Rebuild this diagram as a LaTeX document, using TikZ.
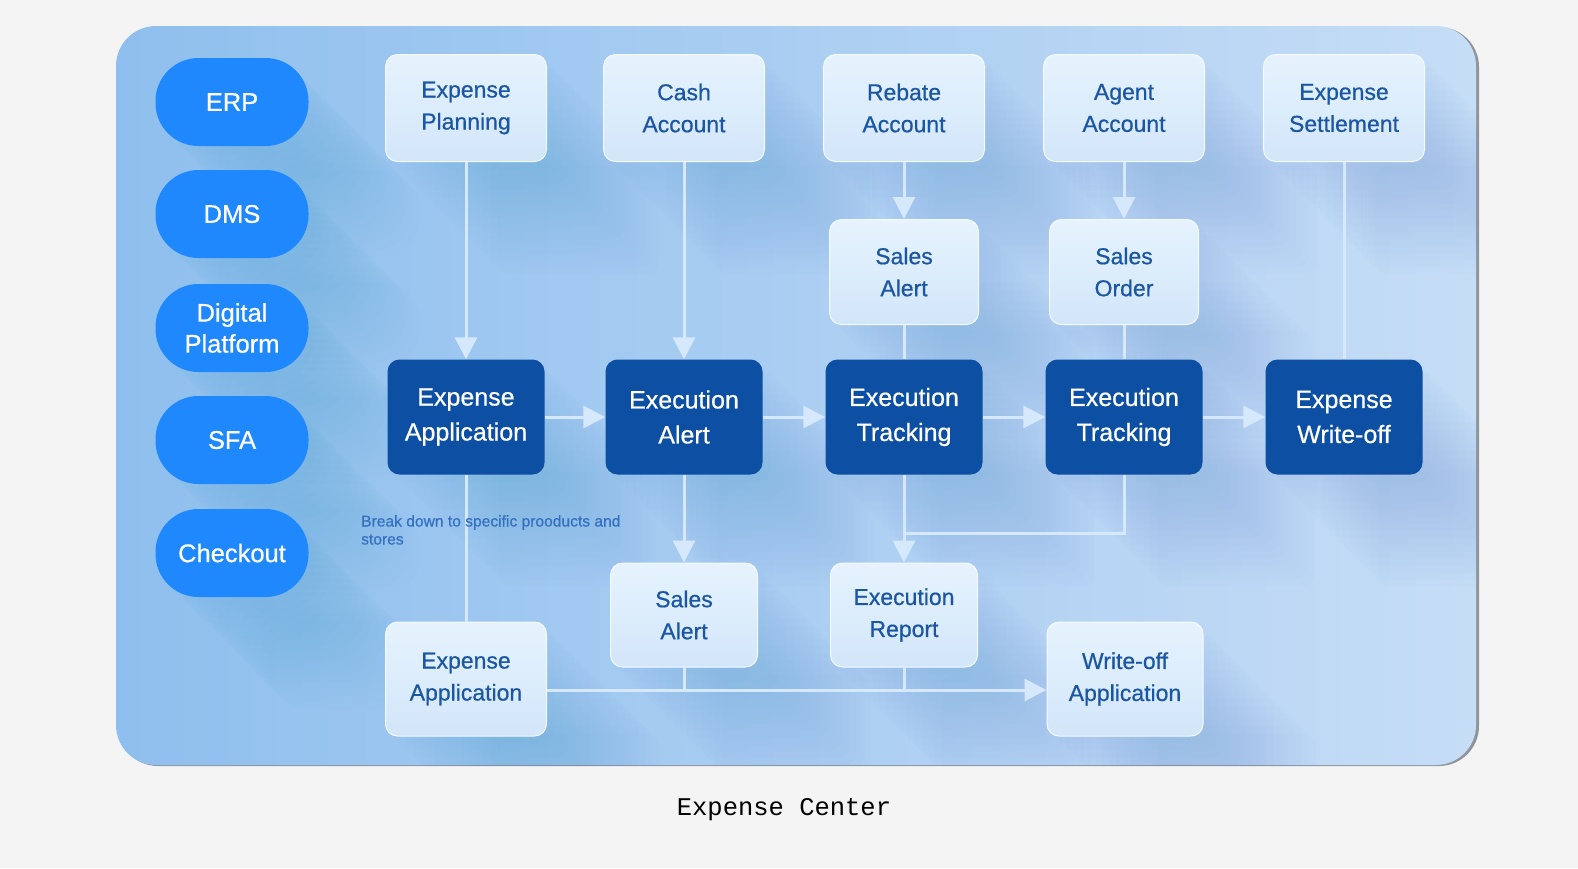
\documentclass[tikz,border=0pt]{standalone}
\usepackage{fontspec}
\setmainfont{Liberation Sans}[FakeBold=0.6]
\newfontfamily\capfont{Liberation Mono}
\usetikzlibrary{arrows.meta}
\definecolor{pagebg}{HTML}{F4F4F4}
\definecolor{panL}{HTML}{8FBFEE}
\definecolor{panR}{HTML}{C6DDF6}
\definecolor{pillblue}{HTML}{1F88FD}
\definecolor{darkbox}{HTML}{0C4FA3}
\definecolor{lightA}{HTML}{E6F3FE}
\definecolor{lightB}{HTML}{D2E6F9}
\definecolor{ltext}{HTML}{1A56A3}
\definecolor{lineblue}{HTML}{D6E8FB}
\definecolor{shcol}{HTML}{3F86D8}
\definecolor{notec}{HTML}{3470C0}
\definecolor{edgegray}{HTML}{8E959E}
\pgfdeclarelayer{bgl}
\pgfdeclarelayer{shl}
\pgfsetlayers{bgl,shl,main}
\newcommand\lsh[2]{%
  \foreach \k in {1,...,16}{%
    \fill[shcol,opacity=.016,rounded corners=#2]
      ([shift={(\k*7,\k*7)}]#1.north west) rectangle ([shift={(\k*7,\k*7)}]#1.south east);
  }}
\begin{document}
\begin{tikzpicture}[x=1pt,y=-1pt,
  pill/.style={rounded corners=43pt, fill=pillblue, minimum width=153pt, minimum height=88pt,
    inner sep=0pt, text=white, align=center, font=\fontsize{25.5}{31}\selectfont},
  lbox/.style={rounded corners=12pt, top color=lightA, bottom color=lightB, draw=white!60!lightA, line width=1pt,
    inner sep=0pt, text=ltext, align=center, font=\fontsize{23}{32}\selectfont},
  dbox/.style={rounded corners=12pt, fill=darkbox, minimum width=157pt, minimum height=115pt,
    inner sep=0pt, text=white, align=center, font=\fontsize{25}{35}\selectfont},
  conn/.style={draw=lineblue, line width=3pt},
  arr/.style={conn, -{Triangle[length=22pt,width=22pt]}},
]
\useasboundingbox (0,0) rectangle (1578,868);
% ---- nodes ----
\node[pill] (erp) at (232,102) {ERP};
\node[pill] (dms) at (232,214) {DMS};
\node[pill] (dig) at (232,328) {Digital\\Platform};
\node[pill] (sfa) at (232,440) {SFA};
\node[pill] (chk) at (232,553) {Checkout};

\node[lbox, minimum width=161pt, minimum height=107pt] (ep) at (466,108) {Expense\\Planning};
\node[lbox, minimum width=161pt, minimum height=107pt] (ca) at (684,108) {Cash\\Account};
\node[lbox, minimum width=161pt, minimum height=107pt] (ra) at (904,108) {Rebate\\Account};
\node[lbox, minimum width=161pt, minimum height=107pt] (aa) at (1124,108) {Agent\\Account};
\node[lbox, minimum width=161pt, minimum height=107pt] (es) at (1344,108) {Expense\\Settlement};

\node[lbox, minimum width=149pt, minimum height=105pt] (sa1) at (904,272) {Sales\\Alert};
\node[lbox, minimum width=149pt, minimum height=105pt] (so) at (1124,272) {Sales\\Order};

\node[dbox] (ea) at (466,417) {Expense\\Application};
\node[dbox] (xa) at (684,417) {Execution\\Alert};
\node[dbox] (et1) at (904,417) {Execution\\Tracking};
\node[dbox] (et2) at (1124,417) {Execution\\Tracking};
\node[dbox] (ew) at (1344,417) {Expense\\Write-off};

\node[lbox, minimum width=147pt, minimum height=104pt] (sa2) at (684,615) {Sales\\Alert};
\node[lbox, minimum width=147pt, minimum height=104pt] (er) at (904,615) {Execution\\Report};

\node[lbox, minimum width=161pt, minimum height=114pt] (eab) at (466,679) {Expense\\Application};
\node[lbox, minimum width=156pt, minimum height=114pt] (wa) at (1125,679) {Write-off\\Application};

\node[font=\capfont\fontsize{25.5}{28}\selectfont, text=black, inner sep=0pt] (cap) at (784,810) {Expense Center};

% ---- connectors ----
\coordinate (j) at (904,533);
\coordinate (hl) at ([yshift=-11pt]eab.east);
\coordinate (hr) at ([yshift=-11pt]wa.west);
\draw[arr] (ep) -- (ea);
\draw[arr] (ca) -- (xa);
\draw[arr] (ra) -- (sa1);
\draw[arr] (aa) -- (so);
\draw[conn] (es) -- (ew);
\draw[conn] (sa1) -- (et1);
\draw[conn] (so) -- (et2);
\draw[arr] (ea) -- (xa);
\draw[arr] (xa) -- (et1);
\draw[arr] (et1) -- (et2);
\draw[arr] (et2) -- (ew);
\draw[arr] (xa) -- (sa2);
\draw[arr] (et1) -- (er);
\draw[conn] (et2.south) |- (j);
\draw[conn] (ea) -- (eab);
\draw[conn] (sa2.south) -- (sa2.south |- hl);
\draw[conn] (er.south) -- (er.south |- hl);
\draw[arr] (hl) -- (hr);

\node[anchor=north west, inner sep=0pt, text=notec, align=left, font=\fontsize{15.6}{18}\selectfont] (note) at (361,515)
  {Break down to specific prooducts and\\stores};

% ---- background ----
\begin{pgfonlayer}{bgl}
  \fill[pagebg] (0,0) rectangle (1578,868);
  \fill[edgegray, rounded corners=40pt] (118,27) rectangle (1479,766);
  \shade[left color=panL, right color=panR, rounded corners=40pt] (116,26) rectangle (1476,765);
\end{pgfonlayer}
\begin{pgfonlayer}{shl}
  \begin{scope}
    \clip[rounded corners=40pt] (116,26) rectangle (1476,765);
    \lsh{erp}{43pt}\lsh{dms}{43pt}\lsh{dig}{43pt}\lsh{sfa}{43pt}\lsh{chk}{43pt}
    \lsh{ep}{12pt}\lsh{ca}{12pt}\lsh{ra}{12pt}\lsh{aa}{12pt}\lsh{es}{12pt}
    \lsh{sa1}{12pt}\lsh{so}{12pt}
    \lsh{ea}{12pt}\lsh{xa}{12pt}\lsh{et1}{12pt}\lsh{et2}{12pt}\lsh{ew}{12pt}
    \lsh{sa2}{12pt}\lsh{er}{12pt}\lsh{eab}{12pt}\lsh{wa}{12pt}
  \end{scope}
\end{pgfonlayer}
\end{tikzpicture}
\end{document}
